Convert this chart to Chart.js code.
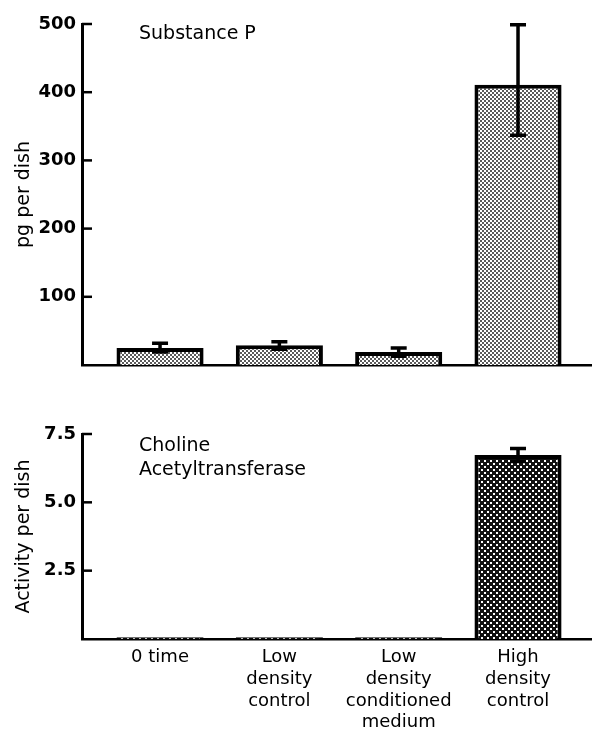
<!DOCTYPE html>
<html>
<head>
<meta charset="utf-8">
<script src="https://cdn.jsdelivr.net/npm/chart.js@4.4.1/dist/chart.umd.min.js"></script>
<style>
  html, body { margin: 0; padding: 0; background: #fff; }
  .panel { position: absolute; left: 0; width: 592px; }
  #top { top: 0; height: 390px; }
  #bottom { top: 390px; height: 345px; }
</style>
</head>
<body>
<div class="panel" id="top"><canvas id="spChart" width="592" height="390"></canvas></div>
<div class="panel" id="bottom"><canvas id="chatChart" width="592" height="345"></canvas></div>
<script>
// categories (split into lines for the bottom axis)
const categories = ['0 time', 'Low density control', 'Low density conditioned medium', 'High density control'];
const categoryLines = [['0 time'], ['Low', 'density', 'control'], ['Low', 'density', 'conditioned', 'medium'], ['High', 'density', 'control']];

// Substance P, pg per dish
const substanceP = [25, 29, 19, 411];
const substancePLow = [19, 23, 13, 337];
const substancePHigh = [32, 34, 25, 499];

// Choline acetyltransferase, activity per dish
const chat = [0.06, 0.06, 0.06, 6.73];
const chatLow = [null, null, null, 6.49];
const chatHigh = [null, null, null, 6.97];

const spTicks = [0, 100, 200, 300, 400, 500];
const chatTicks = [0, 2.5, 5.0, 7.5];

Chart.defaults.font.family = '"DejaVu Sans", "Liberation Sans", Arial, sans-serif';
Chart.defaults.color = '#000';

const makePattern = (size, bg, fg, dots) => {
  const c = document.createElement('canvas');
  c.width = size; c.height = size;
  const g = c.getContext('2d');
  g.fillStyle = bg;
  g.fillRect(0, 0, size, size);
  g.fillStyle = fg;
  dots.forEach(([x, y, s]) => g.fillRect(x, y, s, s));
  return g.createPattern(c, 'repeat');
};

const lightDots = makePattern(4, '#ffffff', '#5a5a5a', [[0, 0, 2], [2, 2, 2]]);
const darkDots = makePattern(6, '#111111', '#ffffff', [[1, 1, 2], [4, 4, 2]]);

// error bars drawn through the chart's own scales
const errorBars = {
  id: 'errorBars',
  afterDatasetsDraw(chart, args, opts) {
    const { ctx } = chart;
    const yScale = chart.scales.y;
    const meta = chart.getDatasetMeta(0);
    ctx.save();
    ctx.strokeStyle = '#000';
    ctx.lineWidth = 3.5;
    meta.data.forEach((bar, i) => {
      const lo = opts.low[i], hi = opts.high[i];
      if (lo == null || hi == null) return;
      const yl = yScale.getPixelForValue(lo);
      const yh = yScale.getPixelForValue(hi);
      ctx.beginPath();
      ctx.moveTo(bar.x, yl); ctx.lineTo(bar.x, yh);
      ctx.moveTo(bar.x - 8, yl); ctx.lineTo(bar.x + 8, yl);
      ctx.moveTo(bar.x - 8, yh); ctx.lineTo(bar.x + 8, yh);
      ctx.stroke();
    });
    ctx.restore();
  }
};

// tick marks pointing into the plot, plus the panel label
const axisDecor = {
  id: 'axisDecor',
  afterDraw(chart, args, opts) {
    const { ctx } = chart;
    const y = chart.scales.y;
    ctx.save();
    ctx.strokeStyle = '#000';
    ctx.lineWidth = 2.5;
    y.ticks.forEach(t => {
      if (t.value === 0) return;
      const py = y.getPixelForValue(t.value);
      ctx.beginPath();
      ctx.moveTo(y.right, py);
      ctx.lineTo(y.right + 10, py);
      ctx.stroke();
    });
    ctx.fillStyle = '#000';
    ctx.font = '19px "DejaVu Sans", sans-serif';
    ctx.textBaseline = 'alphabetic';
    opts.lines.forEach((line, i) => ctx.fillText(line, opts.x, opts.y + i * 24));
    ctx.restore();
  }
};

const makeChart = (id, values, low, high, ticks, fill, cfg) => {
  const ctx = document.getElementById(id).getContext('2d');
  return new Chart(ctx, {
    type: 'bar',
    data: {
      datasets: [{
        data: values.map((v, i) => ({ x: i, y: v })),
        backgroundColor: fill,
        borderColor: '#000',
        borderWidth: 4,
        borderSkipped: 'start',
        barPercentage: 0.73,
        categoryPercentage: 1,
      }],
    },
    options: {
      responsive: false,
      animation: false,
      layout: { padding: { top: cfg.padTop, left: 0, right: 0, bottom: 0 } },
      plugins: {
        legend: { display: false },
        tooltip: { enabled: false },
        errorBars: { low: low, high: high },
        axisDecor: { lines: cfg.label, x: 139, y: cfg.labelY },
      },
      scales: {
        x: {
          type: 'linear',
          offset: false,
          min: -0.654,
          max: 3.62,
          grid: { display: false, drawTicks: false },
          border: { display: true, color: '#000', width: 2.5 },
          afterBuildTicks: scale => { scale.ticks = categories.map((_, i) => ({ value: i })); },
          afterFit: scale => { scale.height = cfg.xHeight; },
          ticks: {
            display: cfg.showX,
            padding: 8,
            font: { size: 18, lineHeight: 1.2 },
            callback: value => categoryLines[value],
            maxRotation: 0,
          },
        },
        y: {
          min: ticks[0],
          max: ticks[ticks.length - 1],
          afterBuildTicks: scale => { scale.ticks = ticks.map(v => ({ value: v })); },
          afterFit: scale => { scale.width = 82; },
          grid: { display: false, drawTicks: false },
          border: { display: true, color: '#000', width: 3 },
          ticks: {
            padding: 6,
            font: { size: 18, weight: 'bold' },
            callback: cfg.tickFormat,
          },
          title: {
            display: true,
            text: cfg.yTitle,
            font: { size: 19 },
            padding: { top: 13 },
          },
        },
      },
    },
    plugins: [errorBars, axisDecor],
  });
};

makeChart('spChart', substanceP, substancePLow, substancePHigh, spTicks, lightDots, {
  padTop: 24, xHeight: 25, showX: false,
  label: ['Substance P'], labelY: 39,
  yTitle: 'pg per dish',
  tickFormat: v => (v === 0 ? '' : v),
});

makeChart('chatChart', chat, chatLow, chatHigh, chatTicks, darkDots, {
  padTop: 44, xHeight: 96, showX: true,
  label: ['Choline', 'Acetyltransferase'], labelY: 61,
  yTitle: 'Activity per dish',
  tickFormat: v => (v === 0 ? '' : v.toFixed(1)),
});
</script>
</body>
</html>
